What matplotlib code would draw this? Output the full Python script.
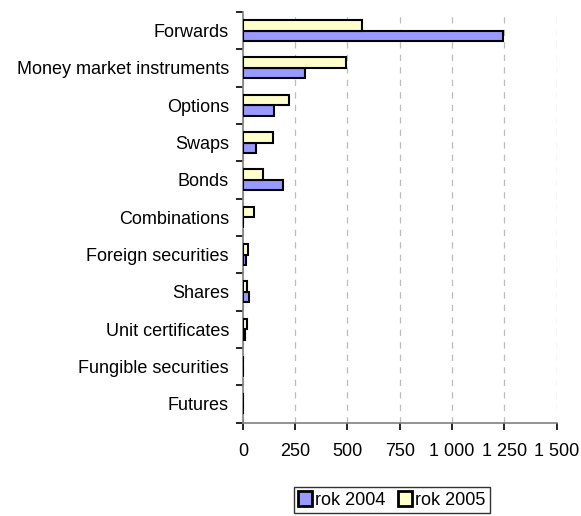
import numpy as np
import matplotlib
matplotlib.use('Agg')
import matplotlib.pyplot as plt

plt.rcParams['font.family'] = ['Liberation Sans', 'DejaVu Sans']

categories = ['Forwards', 'Money market instruments', 'Options', 'Swaps', 'Bonds',
              'Combinations', 'Foreign securities', 'Shares', 'Unit certificates',
              'Fungible securities', 'Futures']
rok_2004 = [1244, 299, 147, 62, 190, 0, 13, 29, 8, 0, 0]
rok_2005 = [572, 492, 220, 142, 94, 53, 26, 19, 19, 0, 0]
xticks = [0, 250, 500, 750, 1000, 1250, 1500]
xticklabels = ['0', '250', '500', '750', '1 000', '1 250', '1 500']

fs = 13
fig = plt.figure(figsize=(5.81, 5.16), dpi=100)
ax = fig.add_axes([0.418, 0.181, 0.540, 0.796])

n = len(categories)
y = np.arange(n)
h = 0.28
ax.barh(y + h / 2, rok_2004, height=h, color='#9999FF', edgecolor='black',
        linewidth=1.5, label='rok 2004', zorder=3)
ax.barh(y - h / 2, rok_2005, height=h, color='#FFFFCC', edgecolor='black',
        linewidth=1.5, label='rok 2005', zorder=3)

ax.set_ylim(n - 0.5, -0.5)
ax.set_xlim(0, 1500)
ax.set_yticks(y)
ax.set_yticklabels(categories, fontsize=fs)
ax.set_yticks(np.arange(-0.5, n, 1), minor=True)
ax.tick_params(axis='y', which='major', length=0, pad=10)
ax.tick_params(axis='y', which='minor', length=5, color='black', width=1.2)
ax.set_xticks(xticks)
ax.set_xticklabels(xticklabels, fontsize=fs)
ax.tick_params(axis='x', length=5, color='black', width=1.2, pad=10)

ax.grid(axis='x', color='#bbbbbb', linestyle=(0, (5, 5)), linewidth=0.9, zorder=0)
for s in ['top', 'right']:
    ax.spines[s].set_visible(False)
for s in ['left', 'bottom']:
    ax.spines[s].set_color('#808080')
    ax.spines[s].set_linewidth(1.2)

leg = fig.legend(loc='center', bbox_to_anchor=(392 / 581, 1 - 500 / 516), ncol=2,
                 fontsize=fs, frameon=True, fancybox=False, edgecolor='black',
                 handlelength=0.75, handleheight=0.9, handletextpad=0.2,
                 columnspacing=0.7, borderpad=0.25)
leg.get_frame().set_linewidth(1.0)
for p in leg.get_patches():
    p.set_linewidth(2.0)

fig.savefig('out.png', dpi=100)
